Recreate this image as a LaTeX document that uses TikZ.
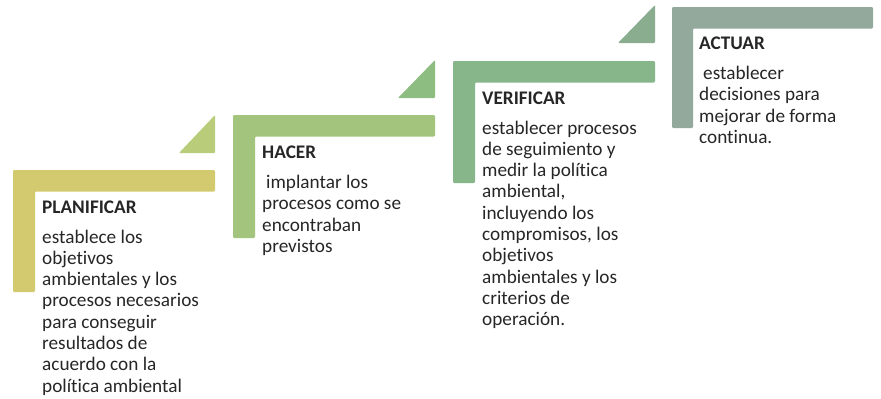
\documentclass[tikz,border=0pt]{standalone}
\usepackage{fontspec}
\setmainfont{Carlito}[Ligatures={NoCommon}]
\definecolor{barA}{HTML}{D3C96E}
\definecolor{triA}{HTML}{B8CC7A}
\definecolor{barB}{HTML}{A2C47C}
\definecolor{triB}{HTML}{8DBD80}
\definecolor{barC}{HTML}{86B68A}
\definecolor{triC}{HTML}{8AAD90}
\definecolor{barD}{HTML}{92A99B}
\definecolor{txt}{HTML}{262626}
\begin{document}
\begin{tikzpicture}[x=1bp,y=-1bp,
  bar/.style={rounded corners=1.2bp},
  tri/.style={rounded corners=1bp},
  ttl/.style={anchor=base west, inner sep=0pt, text=txt, font=\fontsize{19.3}{21.4}\selectfont\bfseries},
  body/.style={anchor=base west, inner sep=0pt, text=txt, font=\fontsize{19.3}{21.4}\selectfont}]
\useasboundingbox (0,0) rectangle (881,398);
% step 1
\fill[barA, bar] (13,170) -- (215,170) -- (215,191.5) -- (35,191.5) -- (35,292) -- (13,292) -- cycle;
\fill[triA, tri] (179,153) -- (215,153) -- (215,115) -- cycle;
\node[ttl] (p1t) at (42,213) {PLANIFICAR};
\node[body] (p1b) at (42,243) {\parbox[t]{250bp}{\raggedright establece los\\objetivos\\ambientales y los\\procesos necesarios\\para conseguir\\resultados de\\acuerdo con la\\política ambiental}};
% step 2
\fill[barB, bar] (233,115) -- (435,115) -- (435,136.5) -- (255,136.5) -- (255,238) -- (233,238) -- cycle;
\fill[triB, tri] (398,98) -- (435,98) -- (435,60) -- cycle;
\node[ttl] (p2t) at (262,158.5) {HACER};
\node[body] (p2b) at (262,188.5) {\parbox[t]{250bp}{\raggedright\hspace*{4bp}implantar los\\procesos como se\\encontraban\\previstos}};
% step 3
\fill[barC, bar] (453,61) -- (655,61) -- (655,82.5) -- (475,82.5) -- (475,183) -- (453,183) -- cycle;
\fill[triC, tri] (618,43) -- (655,43) -- (655,5) -- cycle;
\node[ttl] (p3t) at (482,104) {VERIFICAR};
\node[body] (p3b) at (482,134) {\parbox[t]{250bp}{\raggedright establecer procesos\\de seguimiento y\\medir la política\\ambiental,\\incluyendo los\\compromisos, los\\objetivos\\ambientales y los\\criterios de\\operación.}};
% step 4
\fill[barD, bar] (672,7) -- (873,7) -- (873,28.5) -- (693,28.5) -- (693,128) -- (672,128) -- cycle;
\node[ttl] (p4t) at (699,49.5) {ACTUAR};
\node[body] (p4b) at (699,79.5) {\parbox[t]{250bp}{\raggedright\hspace*{4bp}establecer\\decisiones para\\mejorar de forma\\continua.}};
\end{tikzpicture}
\end{document}
